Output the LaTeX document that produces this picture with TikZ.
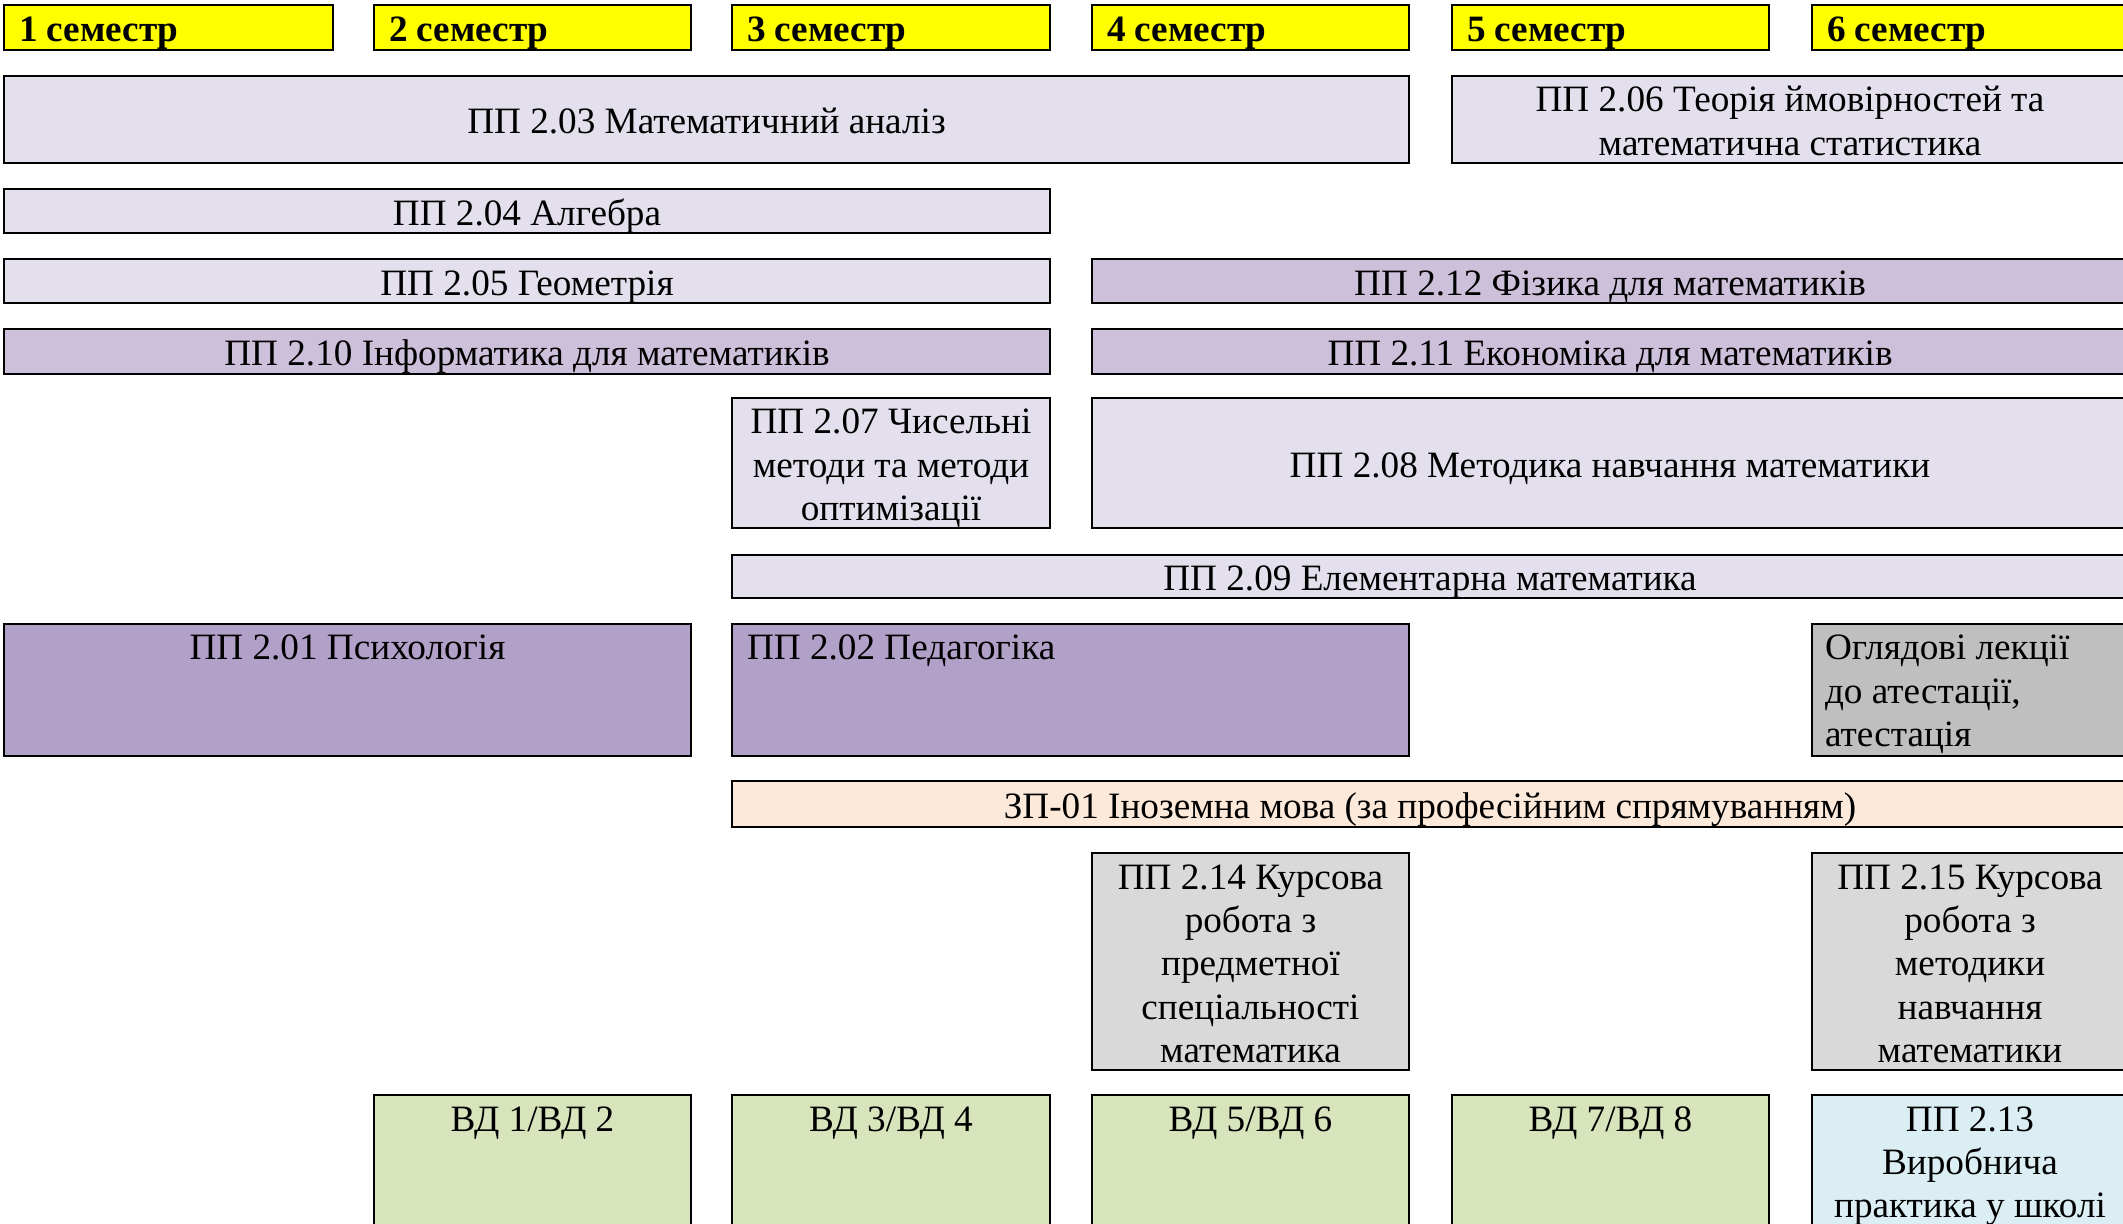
\documentclass[tikz,border=0pt]{standalone}
\usepackage{fontspec}
\setmainfont{Liberation Serif}
\definecolor{semyel}{HTML}{FFFF00}
\definecolor{lavA}{HTML}{E4DFEC}
\definecolor{lavB}{HTML}{CCC0DA}
\definecolor{lavC}{HTML}{B1A0C7}
\definecolor{grayA}{HTML}{BFBFBF}
\definecolor{grayB}{HTML}{D9D9D9}
\definecolor{peach}{HTML}{FDE9D9}
\definecolor{olive}{HTML}{D8E4BC}
\definecolor{aqua}{HTML}{DAEEF3}
\newcommand\sst{\rule[-0.24em]{0pt}{1.15em}}
\tikzset{
  cellst/.style={draw=black, line width=0.95pt, inner sep=0pt, outer sep=0pt, anchor=north west},
  txt/.style={font=\fontsize{18.6}{21.6}\selectfont, align=center, inner sep=0pt, outer sep=0pt},
  ctxt/.style={txt, yshift=-0.8pt},
  semst/.style={font=\fontsize{18.6}{21.6}\selectfont\bfseries, inner sep=0pt, outer sep=0pt, anchor=west, yshift=-0.8pt},
}
\newcommand\cellbox[6]{\node[cellst, fill=#6, minimum width={(#4-#2)*0.5pt}, minimum height={(#5-#3)*0.5pt}] (#1) at (#2,#3) {};}
\begin{document}
\begin{tikzpicture}[x=0.5pt, y=-0.5pt]
\useasboundingbox (0,0) rectangle (2123,1224);
\clip (0,0) rectangle (2123,1224);
% semester headers
\cellbox{s1}{4}{5}{333}{50}{semyel}
\cellbox{s2}{374}{5}{691}{50}{semyel}
\cellbox{s3}{732}{5}{1050}{50}{semyel}
\cellbox{s4}{1092}{5}{1409}{50}{semyel}
\cellbox{s5}{1452}{5}{1769}{50}{semyel}
\cellbox{s6}{1812}{5}{2128}{50}{semyel}
% courses
\cellbox{p203}{4}{76}{1409}{163}{lavA}
\cellbox{p206}{1452}{76}{2128}{163}{lavA}
\cellbox{p204}{4}{189}{1050}{233}{lavA}
\cellbox{p205}{4}{259}{1050}{303}{lavA}
\cellbox{p212}{1092}{259}{2128}{303}{lavB}
\cellbox{p210}{4}{329}{1050}{374}{lavB}
\cellbox{p211}{1092}{329}{2128}{374}{lavB}
\cellbox{p207}{732}{398}{1050}{528}{lavA}
\cellbox{p208}{1092}{398}{2128}{528}{lavA}
\cellbox{p209}{732}{555}{2128}{598}{lavA}
\cellbox{p201}{4}{624}{691}{756}{lavC}
\cellbox{p202}{732}{624}{1409}{756}{lavC}
\cellbox{att}{1812}{624}{2128}{756}{grayA}
\cellbox{zp01}{732}{781}{2128}{827}{peach}
\cellbox{p214}{1092}{853}{1409}{1070}{grayB}
\cellbox{p215}{1812}{853}{2128}{1070}{grayB}
\cellbox{vd12}{374}{1095}{691}{1240}{olive}
\cellbox{vd34}{732}{1095}{1050}{1240}{olive}
\cellbox{vd56}{1092}{1095}{1409}{1240}{olive}
\cellbox{vd78}{1452}{1095}{1769}{1240}{olive}
\cellbox{p213}{1812}{1095}{2128}{1240}{aqua}
% semester labels
\node[semst] (ts1) at ([xshift=7.5pt]s1.west) {\sst 1 семестр};
\node[semst] (ts2) at ([xshift=7.5pt]s2.west) {\sst 2 семестр};
\node[semst] (ts3) at ([xshift=7.5pt]s3.west) {\sst 3 семестр};
\node[semst] (ts4) at ([xshift=7.5pt]s4.west) {\sst 4 семестр};
\node[semst] (ts5) at ([xshift=7.5pt]s5.west) {\sst 5 семестр};
\node[semst] (ts6) at ([xshift=7.5pt]s6.west) {\sst 6 семестр};
% centred texts
\node[ctxt] (t203) at (p203.center) {\sst ПП 2.03 Математичний аналіз};
\node[ctxt] (t206) at (p206.center) {\sst ПП 2.06 Теорія ймовірностей та\\\sst математична статистика};
\node[ctxt] (t204) at (p204.center) {\sst ПП 2.04 Алгебра};
\node[ctxt] (t205) at (p205.center) {\sst ПП 2.05 Геометрія};
\node[ctxt] (t212) at (p212.center) {\sst ПП 2.12 Фізика для математиків};
\node[ctxt] (t210) at (p210.center) {\sst ПП 2.10 Інформатика для математиків};
\node[ctxt] (t211) at (p211.center) {\sst ПП 2.11 Економіка для математиків};
\node[ctxt] (t207) at (p207.center) {\sst ПП 2.07 Чисельні\\\sst методи та методи\\\sst оптимізації};
\node[ctxt] (t208) at (p208.center) {\sst ПП 2.08 Методика навчання математики};
\node[ctxt] (t209) at (p209.center) {\sst ПП 2.09 Елементарна математика};
\node[ctxt] (tzp) at (zp01.center) {\sst ЗП-01 Іноземна мова (за професійним спрямуванням)};
% top-aligned texts
\node[txt, anchor=north] (t201) at ([yshift=-1pt]p201.north) {\sst ПП 2.01 Психологія};
\node[txt, anchor=north west, align=left] (t202) at ([xshift=7.5pt,yshift=-1pt]p202.north west) {\sst ПП 2.02 Педагогіка};
\node[txt, anchor=north west, align=left] (tatt) at ([xshift=6.5pt,yshift=-1pt]att.north west) {\sst Оглядові лекції\\\sst до атестації,\\\sst атестація};
\node[txt, anchor=north] (t214) at ([yshift=-1.3pt]p214.north) {\sst ПП 2.14 Курсова\\\sst робота з\\\sst предметної\\\sst спеціальності\\\sst математика};
\node[txt, anchor=north] (t215) at ([yshift=-1.3pt]p215.north) {\sst ПП 2.15 Курсова\\\sst робота з\\\sst методики\\\sst навчання\\\sst математики};
\node[txt, anchor=north] (tv12) at ([yshift=-1.3pt]vd12.north) {\sst ВД 1/ВД 2};
\node[txt, anchor=north] (tv34) at ([yshift=-1.3pt]vd34.north) {\sst ВД 3/ВД 4};
\node[txt, anchor=north] (tv56) at ([yshift=-1.3pt]vd56.north) {\sst ВД 5/ВД 6};
\node[txt, anchor=north] (tv78) at ([yshift=-1.3pt]vd78.north) {\sst ВД 7/ВД 8};
\node[txt, anchor=north] (t213) at ([yshift=-1.3pt]p213.north) {\sst ПП 2.13\\\sst Виробнича\\\sst практика у школі};
\end{tikzpicture}
\end{document}
